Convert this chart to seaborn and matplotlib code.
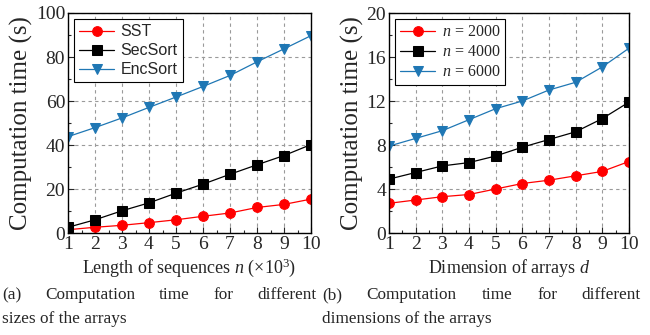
import numpy as np
import pandas as pd
import seaborn as sns
import matplotlib.pyplot as plt
from matplotlib.ticker import MultipleLocator, AutoMinorLocator

# data
x_vals = [1, 2, 3, 4, 5, 6, 7, 8, 9, 10]

sst = [1.5, 2.6, 3.5, 4.7, 6.0, 7.6, 9.1, 11.6, 13.0, 15.4]
secsort = [2.6, 6.0, 10.1, 13.7, 18.1, 22.2, 26.7, 31.0, 35.2, 40.2]
encsort = [43.8, 47.9, 52.3, 57.1, 61.8, 66.6, 71.6, 77.8, 83.7, 89.7]

n2000 = [2.7, 3.0, 3.3, 3.5, 4.0, 4.5, 4.8, 5.2, 5.6, 6.5]
n4000 = [4.9, 5.5, 6.1, 6.4, 7.0, 7.8, 8.5, 9.2, 10.4, 11.9]
n6000 = [7.9, 8.6, 9.3, 10.3, 11.3, 12.0, 13.0, 13.7, 15.1, 16.8]

left_labels = ["SST", "SecSort", "EncSort"]
right_labels = ["$n$ = 2000", "$n$ = 4000", "$n$ = 6000"]

colors = ["#ff0000", "#000000", "#1f77b4"]
markers = ["o", "s", "v"]

sns.set_style("ticks")
plt.rcParams["font.family"] = ["Liberation Serif", "DejaVu Serif"]
plt.rcParams["mathtext.fontset"] = "custom"
plt.rcParams["mathtext.it"] = "Liberation Serif:italic"
plt.rcParams["mathtext.rm"] = "Liberation Serif"

W, H = 650, 335
fig = plt.figure(figsize=(6.5, 3.35), dpi=100)


def px_axes(x0, x1, y0, y1):
    return fig.add_axes([x0 / W, 1 - y1 / H, (x1 - x0) / W, (y1 - y0) / H])


def draw_panel(ax, series, labels, ymax, ystep, xlabel, legend_family):
    for vals, lab, c, m in zip(series, labels, colors, markers):
        sns.lineplot(x=x_vals, y=vals, ax=ax, color=c, marker=m, markersize=7,
                     markeredgecolor=c, linewidth=0.9, label=lab)
    ax.set_xlim(1, 10)
    ax.set_ylim(0, ymax)
    ax.xaxis.set_major_locator(MultipleLocator(1))
    ax.yaxis.set_major_locator(MultipleLocator(ystep))
    ax.xaxis.set_minor_locator(AutoMinorLocator(2))
    ax.yaxis.set_minor_locator(AutoMinorLocator(2))
    ax.tick_params(which="both", direction="in", top=False, right=False,
                   labelsize=14, pad=2)
    ax.tick_params(which="major", length=4, width=0.8)
    ax.tick_params(which="minor", length=2, width=0.8)
    ax.grid(True, which="major", color="#9a9a9a", linestyle=(0, (3, 3)),
            linewidth=0.8)
    for s in ax.spines.values():
        s.set_visible(True)
        s.set_color("black")
        s.set_linewidth(1.0)
    ax.set_ylabel("Computation time (s)", fontsize=18, labelpad=2)
    ax.set_xlabel(xlabel, fontsize=13, labelpad=3)
    leg = ax.legend(loc="upper left", frameon=True, fancybox=False,
                    edgecolor="black", borderaxespad=0.4, handlelength=2.2,
                    borderpad=0.3, labelspacing=0.25, handletextpad=0.4,
                    prop={"family": legend_family, "size": 11.5})
    leg.get_frame().set_linewidth(0.8)
    leg.get_frame().set_alpha(1)


ax1 = px_axes(68, 311, 13, 233)
draw_panel(ax1, [sst, secsort, encsort], left_labels, 100, 20,
           "Length of sequences $n$ ($\\times$10$^3$)", "Liberation Sans")

ax2 = px_axes(389, 629, 13, 233)
draw_panel(ax2, [n2000, n4000, n6000], right_labels, 20, 4,
           "Dimension of arrays $d$", "Liberation Serif")


def justified(words, x0, x1, y, size=12.4):
    texts = [fig.text(0, 1 - y / H, w, fontsize=size, va="center", ha="left")
             for w in words]
    fig.canvas.draw()
    r = fig.canvas.get_renderer()
    widths = [t.get_window_extent(r).width for t in texts]
    gap = ((x1 - x0) - sum(widths)) / (len(words) - 1)
    x = x0
    for t, w in zip(texts, widths):
        t.set_x(x / W)
        x += w + gap


justified(["(a)", "Computation", "time", "for", "different"], 2, 317, 295)
fig.text(2 / W, 1 - 319 / H, "sizes of the arrays", fontsize=12.4, va="center")
justified(["(b)", "Computation", "time", "for", "different"], 322, 641, 295)
fig.text(322 / W, 1 - 319 / H, "dimensions of the arrays", fontsize=12.4,
         va="center")

fig.savefig("out.png", dpi=100)
